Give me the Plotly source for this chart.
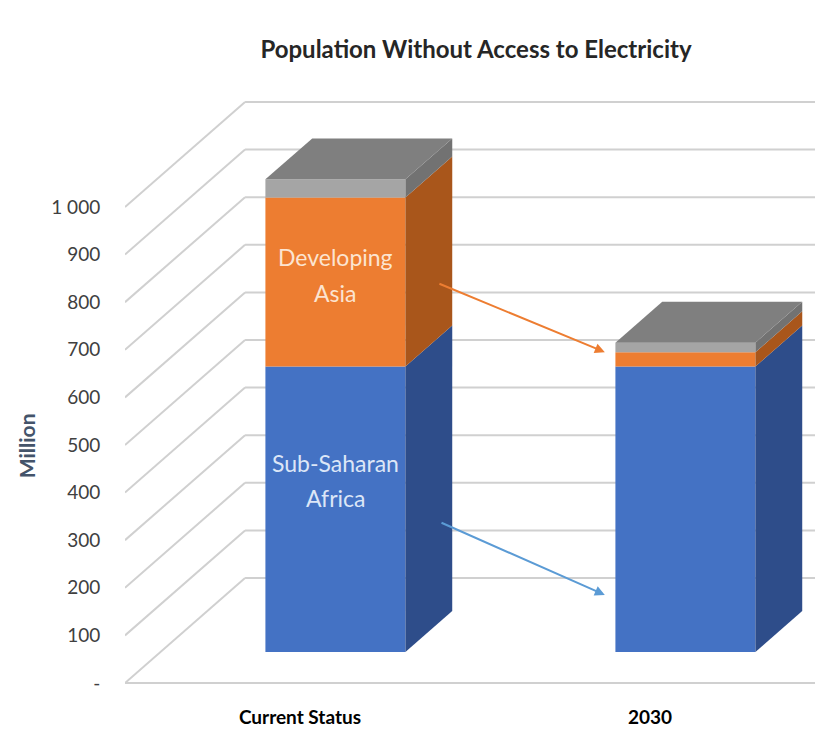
import plotly.graph_objects as go

# ---------------- data ----------------
categories = ["Current Status", "2030"]
sub_saharan_africa = [600, 600]
developing_asia = [355, 30]
other = [38, 20]
y_tick_values = [0, 100, 200, 300, 400, 500, 600, 700, 800, 900, 1000]
y_tick_labels = ["-", "100", "200", "300", "400", "500", "600", "700", "800", "900", "1 000"]

# ---------------- style / projection constants ----------------
DX = 0.343     # x shift for full floor depth (x units)
DY = 220.6     # y shift for full floor depth (value units)
D0 = 0.295     # depth of bar front face
BD = 0.39      # bar depth
W = 0.4        # bar width
X_MIN, X_MAX = -0.5, 1.5

front_colors = ["#4472C4", "#ED7D31", "#A5A5A5"]
side_colors = ["#2E4D8A", "#A9561B", "#727272"]
top_color = "#7F7F7F"
grid_color = "#D0D0D0"

FIG_W, FIG_H = 815, 734   # page body adds an 8px offset


def proj(x, v, d):
    return x + d * DX, v + d * DY


fig = go.Figure()

# ---------------- walls / gridlines (below all traces) ----------------
shapes = []
for v in y_tick_values:
    p0 = proj(X_MIN, v, 0)
    p1 = proj(X_MIN, v, 1)
    p2 = proj(X_MAX + 1, v, 1)
    for a, b in [(p0, p1), (p1, p2)]:
        shapes.append(dict(type="line", xref="x", yref="y", x0=a[0], y0=a[1], x1=b[0], y1=b[1],
                           line=dict(color=grid_color, width=2), layer="below"))
shapes.append(dict(type="line", xref="x", yref="y", x0=X_MIN, y0=0, x1=X_MAX + 1, y1=0,
                   line=dict(color=grid_color, width=2), layer="below"))

series = [sub_saharan_africa, developing_asia, other]

# ---------------- bars: side and top faces ----------------
for i, cat in enumerate(categories):
    xl, xr = i - W / 2, i + W / 2
    bottom = 0
    for s, vals in enumerate(series):
        top = bottom + vals[i]
        a = proj(xr, bottom, D0)
        b = proj(xr, top, D0)
        c = proj(xr, top, D0 + BD)
        d = proj(xr, bottom, D0 + BD)
        fig.add_trace(go.Scatter(x=[a[0], b[0], c[0], d[0], a[0]], y=[a[1], b[1], c[1], d[1], a[1]],
                                 mode="lines", fill="toself", fillcolor=side_colors[s],
                                 line=dict(width=0, color=side_colors[s]),
                                 hoverinfo="skip", showlegend=False))
        bottom = top
    a = proj(xl, bottom, D0)
    b = proj(xr, bottom, D0)
    c = proj(xr, bottom, D0 + BD)
    d = proj(xl, bottom, D0 + BD)
    fig.add_trace(go.Scatter(x=[a[0], b[0], c[0], d[0], a[0]], y=[a[1], b[1], c[1], d[1], a[1]],
                             mode="lines", fill="toself", fillcolor=top_color,
                             line=dict(width=0, color=top_color),
                             hoverinfo="skip", showlegend=False))

# front faces as stacked bars
bases = [0] * len(categories)
for s, vals in enumerate(series):
    fig.add_trace(go.Bar(
        x=[i + D0 * DX for i in range(len(categories))],
        y=vals,
        base=[b + D0 * DY for b in bases],
        width=W,
        marker=dict(color=front_colors[s], line=dict(width=0)),
        showlegend=False,
        hoverinfo="skip",
    ))
    bases = [b + v for b, v in zip(bases, vals)]

# ---------------- in-bar labels ----------------
annotations = []
asia_mid = sub_saharan_africa[0] + developing_asia[0] / 2 + D0 * DY
ssa_mid = sub_saharan_africa[0] / 2 + D0 * DY
xc = 0 + D0 * DX
for txt, yv, shift, col in [("Developing", asia_mid, 25, "#FCE4D0"), ("Asia", asia_mid, -11, "#FCE4D0"),
                            ("Sub-Saharan", ssa_mid, 46, "#DCE6F7"), ("Africa", ssa_mid, 11, "#DCE6F7")]:
    annotations.append(dict(x=xc, y=yv, xref="x", yref="y", text=txt, showarrow=False,
                            yshift=shift, font=dict(family="Lato", size=23, color=col)))

# arrows
annotations.append(dict(x=0.871, y=695, ax=0.394, ay=840, xref="x", yref="y", axref="x", ayref="y",
                        text="", showarrow=True, arrowhead=2, arrowsize=1, arrowwidth=2,
                        arrowcolor="#ED7D31"))
annotations.append(dict(x=0.871, y=185, ax=0.40, ay=338, xref="x", yref="y", axref="x", ayref="y",
                        text="", showarrow=True, arrowhead=2, arrowsize=1, arrowwidth=2,
                        arrowcolor="#5B9BD5"))

# y axis title
annotations.append(dict(x=-0.162, y=0.41, xref="paper", yref="paper", text="<b>Million</b>",
                        textangle=-90, showarrow=False,
                        font=dict(family="Lato", size=21, color="#44546A")))

fig.update_layout(
    width=FIG_W, height=FIG_H,
    margin=dict(l=117, r=0, t=82, b=49),
    paper_bgcolor="white", plot_bgcolor="white",
    barmode="overlay",
    shapes=shapes,
    title=dict(text="<b>Population Without Access to Electricity</b>", x=468 / FIG_W, xref="container",
               y=1 - 42 / FIG_H, yref="container", xanchor="center", yanchor="middle",
               font=dict(family="Lato", size=24, color="#262626")),
    xaxis=dict(range=[X_MIN, X_MIN + 698 / 350], showgrid=False, zeroline=False, showline=False,
               tickvals=list(range(len(categories))), ticktext=["<b>%s</b>" % c for c in categories],
               ticks="outside", ticklen=7, tickcolor="rgba(0,0,0,0)",
               tickfont=dict(family="Lato", size=19, color="#000000")),
    yaxis=dict(range=[-21, -21 + 603 / 0.476], showgrid=False, zeroline=False, showline=False,
               tickvals=y_tick_values, ticktext=y_tick_labels,
               ticks="outside", ticklen=20, tickcolor="rgba(0,0,0,0)",
               tickfont=dict(family="Lato", size=19, color="#404040")),
    annotations=annotations,
)

fig.write_html("out.html")
